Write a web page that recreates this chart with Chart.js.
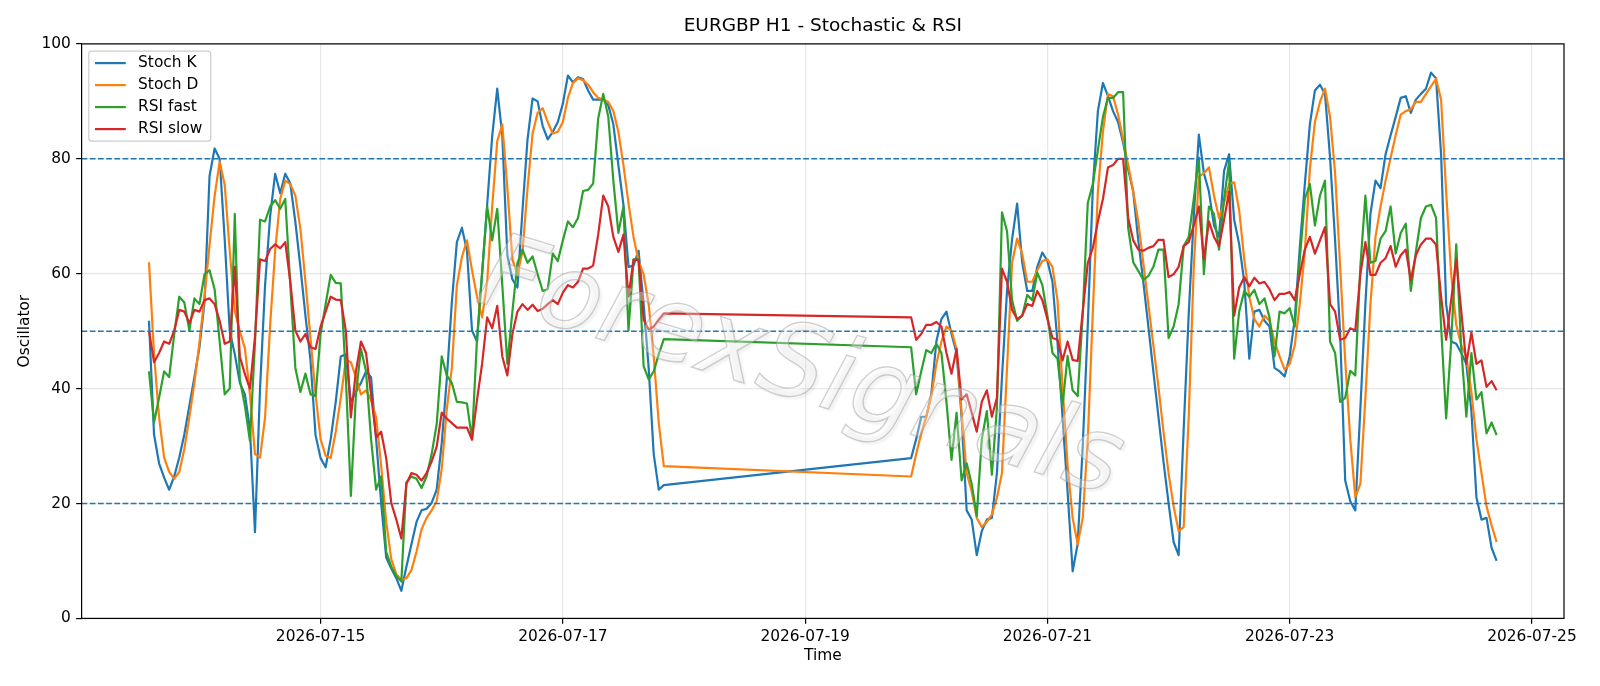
<!DOCTYPE html>
<html lang="en">
<head>
<meta charset="UTF-8">
<title>EURGBP H1 - Stochastic & RSI</title>
<script src="https://cdn.jsdelivr.net/npm/chart.js@4.4.1/dist/chart.umd.min.js"></script>
<style>
  html, body { margin: 0; padding: 0; background: #fff; }
</style>
</head>
<body>
<canvas id="osc" width="1600" height="686"></canvas>
<script>
// hourly bars, two sessions split by the weekend gap
const segmentStarts = ['2026-07-13T14:00:00Z', '2026-07-19T21:00:00Z'];
const segmentLengths = [103, 117];
const xTickDays = ['2026-07-15', '2026-07-17', '2026-07-19', '2026-07-21', '2026-07-23', '2026-07-25'];
const yTicks = [0, 20, 40, 60, 80, 100];
const levelLines = [20, 50, 80];
const seriesNames = ['Stoch K', 'Stoch D', 'RSI fast', 'RSI slow'];

const stochK = [
  51.8, 32, 27, 24.5, 22.4, 24.7, 28, 32, 37, 42,
  47.2, 55, 77, 81.8, 80, 66, 50, 46, 41, 39,
  33, 15, 40, 58, 70, 77.4, 74, 77.4, 75.7, 69,
  61.2, 52.7, 44.9, 31.9, 27.9, 26.3, 31.2, 37.7, 45.6, 46,
  37.7, 39.4, 41, 43, 42, 31.2, 20.1, 10.6, 8.7, 7,
  4.8, 9, 12.9, 16.8, 18.8, 19.1, 20.1, 22.4, 30.5, 41.6,
  55, 65.5, 68, 64, 50.1, 48.2, 60, 72, 84, 92.2,
  84, 63.2, 59, 57.6, 71, 83.4, 90.5, 90, 85.7, 83.4,
  84.7, 86.4, 89.6, 94.5, 93.3, 94.2, 93.9, 91.9, 90.3, 90.3,
  90.3, 89.3, 86, 78.9, 72, 61.2, 61.4, 64, 54.7, 43.6,
  28.6, 22.4, 23.2,
  // after the weekend
  27.9, 31.2, 35.1, 35.1, 39, 48.2, 52.1, 53.4, 49.5, 46.2,
  35.1, 18.8, 17.2, 11, 15.2, 17.2, 17.5, 25.3, 42, 57,
  66, 72.2, 62, 57, 57, 61.2, 63.7, 62.2, 58.6, 48,
  35, 22, 8.2, 13, 30, 51, 75, 88.3, 93.2, 90.9,
  88.3, 86.4, 82.8, 78.2, 74.3, 65.8, 58.6, 50.8, 42.9, 35.1,
  27.3, 20.1, 13.3, 11, 33, 53, 70, 84.2, 77.5, 74.3,
  68.4, 66.4, 77.9, 80.8, 69.4, 65.1, 58.6, 45.2, 53.4, 53.7,
  51.8, 50.8, 43.6, 43, 42.1, 45.6, 52.1, 64.5, 75.6, 86,
  91.9, 92.9, 91.3, 80.2, 65.8, 49.5, 24, 20.4, 18.8, 36.4,
  54.7, 70.4, 76.2, 74.9, 80.8, 84.1, 87.3, 90.6, 90.9, 88,
  90.3, 91.3, 92.2, 95, 94, 80.8, 54.7, 48.2, 47.8, 46.2,
  44.3, 36.1, 21.1, 17.2, 17.5, 12.3, 10
];

const stochD = [
  62, 46, 35, 28, 25.5, 24.3, 25.5, 29.5, 35, 41,
  48, 56, 65, 73.5, 79.5, 75.5, 64, 53.5, 50, 47,
  39, 28.6, 28, 35, 51, 64, 73, 76.2, 75.6, 73.6,
  67.8, 58.6, 48.8, 39, 31.2, 28.3, 27.9, 32.5, 38.4, 45,
  44.6, 42, 39, 39.7, 38, 35, 26.6, 16.8, 10.3, 7.7,
  6.7, 7, 8.4, 11.6, 15.5, 17.5, 18.8, 20.4, 26, 36.4,
  43.6, 58, 62.9, 65.8, 60.6, 56, 52.4, 58.6, 71.7, 83.1,
  86, 74.9, 62.5, 59.9, 63.8, 74.9, 84.4, 88, 88.8, 86.4,
  84.4, 84.7, 86.4, 90.6, 93.2, 94, 93.7, 92.9, 91.6, 90.6,
  90.3, 89.9, 88.3, 84.7, 78.9, 72.3, 66.4, 62.2, 59.9, 54.7,
  45.6, 34, 26.5,
  24.7, 28.6, 32.2, 35.1, 38.7, 44.3, 48.2, 50.8, 50.1, 46.9,
  35.8, 25.3, 22.1, 17.5, 15.9, 16.8, 18.1, 21, 25.3, 43.6,
  61.9, 66.1, 63.5, 58.6, 58.6, 60.6, 62.2, 62.5, 61.2, 55.4,
  40.3, 26.6, 17.5, 12.9, 17.5, 31.2, 53.4, 74.3, 84.7, 91.3,
  90.9, 87.7, 83.4, 78.9, 74.3, 69.1, 61.9, 54.7, 47.5, 40.3,
  32.5, 25.3, 19.5, 15.2, 15.9, 35.1, 61.2, 76.9, 77.5, 78.5,
  73.6, 69.7, 72.3, 75.6, 75.9, 71, 62.5, 56, 52.1, 50.8,
  52.7, 51.8, 48.2, 45.6, 43.3, 44.3, 47.5, 54.7, 63.8, 78.2,
  86.4, 89.9, 92.2, 87.3, 77.5, 61.2, 44.9, 31.2, 21.1, 23.4,
  38.4, 54.7, 66.4, 71.7, 76.2, 80.2, 84.1, 87.7, 88.3, 88.6,
  89.9, 89.9, 91.3, 92.6, 93.9, 90.3, 74.3, 59.9, 51.1, 47.5,
  45.6, 39.4, 31.2, 25.3, 19.5, 16.2, 13.3
];

const rsiFast = [
  43, 34.1, 38.4, 43, 42, 49.5, 56, 55, 50.1, 55.7,
  54.7, 59.9, 60.6, 57.3, 48.2, 39, 40, 70.4, 41.6, 37,
  30.9, 48, 69.4, 69.1, 71.7, 72.8, 71.3, 73, 58, 43.6,
  39.4, 42.6, 39, 38.7, 49.5, 54.7, 59.8, 58.4, 58.3, 42,
  21.3, 39, 46.9, 43, 31.2, 22.4, 24.7, 11.6, 9, 7.4,
  6.4, 23.7, 24.7, 24.3, 22.7, 24.7, 28.6, 33.8, 45.6, 42.3,
  41, 37.7, 37.6, 37.4, 31.2, 48.8, 60.2, 71.7, 65.8, 71.3,
  58, 44.3, 53.4, 61.9, 64.2, 61.9, 63, 59.9, 57, 57.3,
  63.5, 62.2, 65.8, 69.1, 68.1, 69.7, 74.4, 74.6, 75.7, 87,
  91.3, 87.3, 76.2, 67.1, 71.7, 50.1, 62.5, 62.5, 43.9, 41.6,
  43, 46, 48.6,
  47.2, 39, 43, 46.7, 46.2, 47.8, 46.2, 37.7, 27.6, 35.8,
  24, 27, 23.4, 17.8, 31.2, 36.1, 25, 36.7, 70.7, 67.4,
  55.4, 51.8, 52.7, 56.3, 55.4, 60.2, 58, 52.7, 46.2, 45.2,
  37.1, 45.7, 39.7, 38.7, 53, 72.3, 75.6, 81.5, 87.3, 90.6,
  90.6, 91.6, 91.6, 68, 62, 60.5, 58.9, 59.6, 61.2, 64.2,
  64.2, 48.8, 50.8, 54.7, 64.8, 66.4, 73, 80.2, 59.9, 71.7,
  70.4, 64.2, 73, 79.5, 45.2, 53.4, 57, 56, 57.2, 54.7,
  55.7, 52.4, 45.6, 53.4, 53.1, 54, 50.8, 62.5, 73, 75.6,
  68.4, 73.6, 76.2, 48.2, 46.2, 37.7, 38.4, 43.1, 42.3, 61.2,
  73.6, 61.9, 62.2, 66.1, 67.4, 71.7, 63.5, 67.1, 68.7, 57,
  63.8, 69.7, 71.7, 72, 69.7, 50.8, 34.8, 48.2, 65.1, 46.9,
  35.1, 46.2, 38.1, 39.4, 32.2, 34.1, 31.9
];

const rsiSlow = [
  50.1, 44.6, 46.2, 48.2, 47.8, 50.1, 53.7, 53.4, 51.4, 53.7,
  53.4, 55.4, 55.7, 54.7, 51.8, 47.8, 48.2, 61.2, 45.6, 42.5,
  40, 49, 62.5, 62.2, 64.3, 65.1, 64.4, 65.5, 58.6, 50.1,
  48.2, 49.5, 47.2, 46.9, 50.8, 53.4, 56, 55.5, 55.4, 50.1,
  35, 43, 48.2, 46.2, 39, 31.5, 32.5, 27.9, 20.1, 17.2,
  13.9, 23.4, 25.3, 25, 24, 25.3, 27.3, 29.9, 35.8, 34.8,
  34, 33.2, 33.2, 33.2, 31.1, 38.1, 44.3, 52.4, 50.5, 54.4,
  45.6, 42.3, 49.5, 53.4, 54.7, 53.7, 54.6, 53.5, 53.9, 54.7,
  55.4, 54.7, 56.7, 58, 57.6, 58.6, 60.9, 60.9, 61.4, 66.8,
  73.6, 71.7, 66.4, 63.8, 66.8, 56, 62.4, 62.4, 52, 50.3,
  50.8, 52, 53.1,
  52.4, 48.5, 49.5, 51.1, 51.1, 51.6, 50.8, 46.2, 42.6, 46.9,
  38.1, 39, 35.8, 32.5, 37.7, 39.7, 35.1, 38.4, 60.9, 58.6,
  53.7, 52.1, 52.7, 54.7, 54.4, 57, 55.4, 52.1, 48.8, 48.5,
  44.9, 48.2, 45, 44.8, 53.4, 61.9, 64.5, 69.1, 73, 78.5,
  78.9, 80, 80, 69.7, 65.8, 64.2, 64, 64.5, 64.8, 65.9,
  65.9, 59.4, 59.9, 61.2, 64.8, 65.5, 68.4, 71.7, 62.5, 69.1,
  66.4, 64.8, 69.4, 74.3, 52.7, 57.6, 59.4, 57.8, 59.3, 58.3,
  58.6, 57.3, 55.4, 56.5, 56.5, 56.8, 55.4, 59.9, 64.2, 66.4,
  63.5, 65.8, 68.1, 54.7, 53.4, 48.5, 48.8, 50.5, 50.1, 59.9,
  65.5, 59.8, 59.8, 61.9, 62.7, 64.8, 61.2, 63.2, 64.2, 58.9,
  63.2, 65.1, 66.1, 66.1, 65.1, 56, 48.5, 55.4, 62.5, 53.4,
  44.3, 49.8, 44.3, 44.9, 40.3, 41.3, 39.7
];

const colors = ['#1f77b4', '#ff7f0e', '#2ca02c', '#d62728'];
const FONT = '"DejaVu Sans", sans-serif';
const HOUR = 3600 * 1000;

// timestamps for every bar
const times = [];
segmentStarts.forEach((s, k) => {
  const t0 = Date.parse(s);
  for (let i = 0; i < segmentLengths[k]; i++) times.push(t0 + i * HOUR);
});
const span = times[times.length - 1] - times[0];
const xMin = times[0] - span * 0.05;
const xMax = times[times.length - 1] + span * 0.05;

function pts(arr) {
  return arr.map((v, i) => ({ x: times[i], y: v }));
}

const allSeries = [stochK, stochD, rsiFast, rsiSlow];
const datasets = allSeries.map((arr, i) => ({
  label: seriesNames[i],
  data: pts(arr),
  borderColor: colors[i],
  backgroundColor: colors[i],
  borderWidth: 2.2,
  pointRadius: 0,
  tension: 0,
  borderJoinStyle: 'round',
  order: 4 - i
}));

const extras = {
  id: 'extras',
  afterDatasetsDraw(chart) {
    const ctx = chart.ctx, a = chart.chartArea, y = chart.scales.y;
    ctx.save();
    // horizontal level lines
    ctx.strokeStyle = '#1f77b4';
    ctx.lineWidth = 1.5;
    ctx.setLineDash([5.7, 2.5]);
    levelLines.forEach(v => {
      const py = y.getPixelForValue(v);
      ctx.beginPath();
      ctx.moveTo(a.left, py);
      ctx.lineTo(a.right, py);
      ctx.stroke();
    });
    ctx.setLineDash([]);
    // axes frame
    ctx.strokeStyle = '#000';
    ctx.lineWidth = 1.2;
    ctx.strokeRect(a.left, a.top, a.right - a.left, a.bottom - a.top);
    ctx.restore();
  },
  afterDraw(chart) {
    const ctx = chart.ctx, a = chart.chartArea;
    ctx.save();
    // title
    ctx.fillStyle = '#000';
    ctx.font = '18.5px ' + FONT;
    ctx.textAlign = 'center';
    ctx.textBaseline = 'middle';
    ctx.fillText('EURGBP H1 - Stochastic & RSI', (a.left + a.right) / 2, 26.5);

    // watermark
    ctx.save();
    ctx.translate(800, 372);
    ctx.rotate(17 * Math.PI / 180);
    ctx.font = 'italic 104px ' + FONT;
    ctx.textAlign = 'center';
    ctx.textBaseline = 'middle';
    ctx.shadowColor = 'rgba(0,0,0,0.14)';
    ctx.shadowOffsetX = 3;
    ctx.shadowOffsetY = 3;
    ctx.shadowBlur = 2;
    ctx.fillStyle = 'rgba(245,245,245,0.35)';
    ctx.fillText('ForexSignals', 0, 0);
    ctx.shadowColor = 'transparent';
    ctx.strokeStyle = 'rgba(165,165,165,0.55)';
    ctx.lineWidth = 1.3;
    ctx.strokeText('ForexSignals', 0, 0);
    ctx.restore();

    // legend
    const bx = a.left + 7.2, by = a.top + 7.2, bw = 122, bh = 90;
    ctx.fillStyle = 'rgba(255,255,255,0.8)';
    ctx.strokeStyle = '#cccccc';
    ctx.lineWidth = 1.2;
    ctx.beginPath();
    ctx.roundRect(bx, by, bw, bh, 3);
    ctx.fill();
    ctx.stroke();
    ctx.font = '15.4px ' + FONT;
    ctx.textAlign = 'left';
    ctx.textBaseline = 'middle';
    seriesNames.forEach((name, i) => {
      const ry = by + 12 + i * 22;
      ctx.strokeStyle = colors[i];
      ctx.lineWidth = 2.2;
      ctx.beginPath();
      ctx.moveTo(bx + 6.2, ry);
      ctx.lineTo(bx + 37, ry);
      ctx.stroke();
      ctx.fillStyle = '#000';
      ctx.fillText(name, bx + 49.3, ry);
    });
    ctx.restore();
  }
};

new Chart(document.getElementById('osc'), {
  type: 'line',
  data: { datasets },
  options: {
    responsive: false,
    animation: false,
    events: [],
    layout: { padding: { top: 43.9, right: 36, bottom: 0, left: 0 } },
    plugins: {
      legend: { display: false },
      title: { display: false },
      tooltip: { enabled: false }
    },
    scales: {
      x: {
        type: 'linear',
        min: xMin,
        max: xMax,
        afterBuildTicks: s => { s.ticks = xTickDays.map(d => ({ value: Date.parse(d + 'T00:00:00Z') })); },
        afterFit: s => { s.height = 686 - 618.4; },
        ticks: {
          autoSkip: false,
          maxRotation: 0,
          padding: 4,
          color: '#000',
          font: { family: FONT, size: 15.4 },
          callback: v => new Date(v).toISOString().slice(0, 10)
        },
        grid: { color: 'rgba(176,176,176,0.3)', lineWidth: 1.2, tickColor: '#000', tickLength: 5.4, tickWidth: 1.2 },
        border: { display: false },
        title: { display: true, text: 'Time', color: '#000', font: { family: FONT, size: 15.4 }, padding: { top: 0, bottom: 20.8 } }
      },
      y: {
        min: 0,
        max: 100,
        afterBuildTicks: s => { s.ticks = yTicks.map(v => ({ value: v })); },
        afterFit: s => { s.width = 81.6; },
        ticks: { padding: 5.4, color: '#000', font: { family: FONT, size: 15.4 } },
        grid: { color: 'rgba(176,176,176,0.3)', lineWidth: 1.2, tickColor: '#000', tickLength: 5.4, tickWidth: 1.2 },
        border: { display: false },
        title: { display: true, text: 'Oscillator', color: '#000', font: { family: FONT, size: 15.4 }, padding: { top: 15.3, bottom: 0 } }
      }
    }
  },
  plugins: [extras]
});
</script>
</body>
</html>
